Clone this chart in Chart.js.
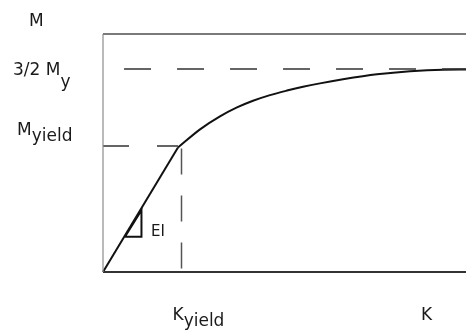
<!DOCTYPE html>
<html><head><meta charset="utf-8">
<script src="https://cdn.jsdelivr.net/npm/chart.js@4"></script>
<style>html,body{margin:0;padding:0;background:#fff;}canvas{display:block}</style>
</head><body>
<canvas id="c" width="466" height="330"></canvas>
<script>
// Moment (M) vs curvature (K), normalised by yield values
const elasticK = [0, 0.955];
const elasticM = [0, 0.988];
const plasticK = [0.955, 1.236, 1.490, 1.707, 1.911, 2.127, 2.344, 2.548, 2.764, 3.057, 3.490, 3.911, 4.331, 4.624];
const plasticM = [0.988, 1.132, 1.235, 1.306, 1.359, 1.404, 1.440, 1.470, 1.497, 1.529, 1.569, 1.594, 1.606, 1.607];
const kYield = 1;
const mYield = 1;
const mPlateau = 1.611;
const kMax = 4.624;
const mMax = 1.889;
const triK = [0.28, 0.49, 0.49, 0.28];
const triM = [0.28, 0.49, 0.28, 0.28];
const yLabels = ['3/2 M', 'M'];
const ySubs = ['y', 'yield'];
const xLabels = ['K', 'K'];
const xSubs = ['yield', ''];
const axisTitleY = 'M';
const slopeLabel = 'EI';

const pts = (xs, ys) => xs.map((x, i) => ({x, y: ys[i]}));
const base = {showLine: true, pointRadius: 0, fill: false, clip: false, tension: 0};

const textPlugin = {
  id: 'texts',
  afterDatasetsDraw(chart) {
    const ctx = chart.ctx, xs = chart.scales.x, ys = chart.scales.y;
    ctx.save();
    ctx.fillStyle = '#1a1a1a';
    ctx.textBaseline = 'alphabetic';
    const font = '17px "DejaVu Sans"';
    function sub(main, s, x, yb, drop, f) {
      ctx.font = f;
      ctx.fillText(main, x, yb);
      const w = ctx.measureText(main).width;
      if (s) ctx.fillText(s, x + w, yb + drop);
    }
    ctx.font = font;
    ctx.fillText(axisTitleY, 29, 26);
    sub(yLabels[0], ySubs[0], 13, ys.getPixelForValue(mPlateau) + 6, 12, font);
    sub(yLabels[1], ySubs[1], 17, ys.getPixelForValue(mYield) - 11, 6, font);
    sub(xLabels[0], xSubs[0], xs.getPixelForValue(kYield) - 9, 320, 6, font);
    sub(xLabels[1], xSubs[1], 421, 320, 0, font);
    ctx.font = '15px "DejaVu Sans"';
    ctx.fillText(slopeLabel, 151, 236);
    ctx.restore();
  }
};

new Chart(document.getElementById('c'), {
  type: 'scatter',
  data: {
    datasets: [
      {...base, data: [{x: 0, y: mMax}, {x: kMax, y: mMax}], borderColor: '#7a7a7a', borderWidth: 2},
      {...base, data: [{x: 0, y: 0}, {x: 0, y: mMax}], borderColor: '#8c8c8c', borderWidth: 1.2},
      {...base, data: [{x: 0, y: 0}, {x: kMax, y: 0}], borderColor: '#333', borderWidth: 2},
      {...base, data: [{x: 0.268, y: mPlateau}, {x: kMax, y: mPlateau}], borderColor: '#333', borderWidth: 1.5, borderDash: [27, 26]},
      {...base, data: [{x: 0, y: mYield}, {x: 0.955, y: mYield}], borderColor: '#333', borderWidth: 1.5, borderDash: [26, 28]},
      {...base, data: [{x: kYield, y: 0.98}, {x: kYield, y: 0}], borderColor: '#555', borderWidth: 1.5, borderDash: [26, 21]},
      {...base, data: pts(elasticK, elasticM), borderColor: '#111', borderWidth: 2},
      {...base, data: pts(plasticK, plasticM), borderColor: '#111', borderWidth: 2, cubicInterpolationMode: 'monotone'},
      {...base, data: pts(triK, triM), borderColor: '#111', borderWidth: 2}
    ]
  },
  options: {
    responsive: false,
    animation: false,
    events: [],
    layout: {padding: {left: 103, top: 34, right: 0, bottom: 58}},
    plugins: {legend: {display: false}, tooltip: {enabled: false}},
    scales: {
      x: {type: 'linear', display: false, min: 0, max: kMax},
      y: {type: 'linear', display: false, min: 0, max: mMax}
    }
  },
  plugins: [textPlugin]
});
</script>
</body></html>
